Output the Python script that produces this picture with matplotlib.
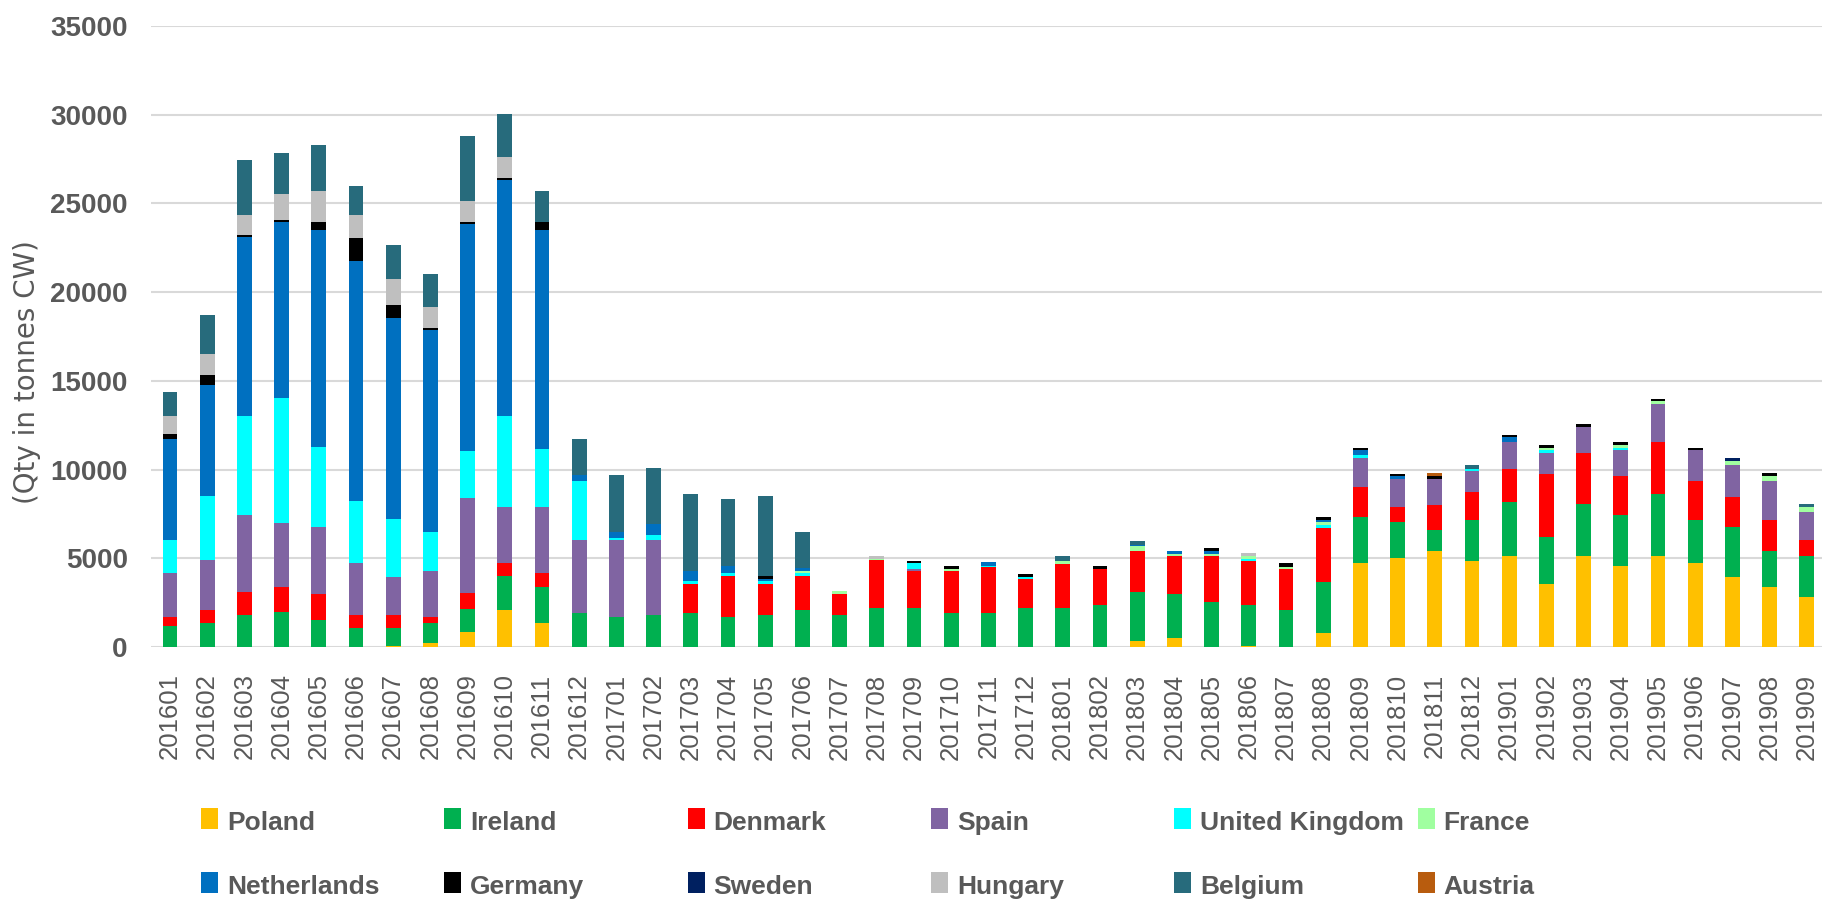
import matplotlib
matplotlib.use('Agg')
import matplotlib.pyplot as plt
import numpy as np
from matplotlib import font_manager
from matplotlib.patches import Rectangle

# the original uses a narrow sans; take a condensed family if one is installed
names = {f.name for f in font_manager.fontManager.ttflist}
FONT, LEG_SIZE = 'Liberation Sans', 19
for cand in ['Liberation Sans Narrow', 'DejaVu Sans Condensed']:
    if cand in names:
        FONT, LEG_SIZE = cand, 21
        break
GREY = '#595959'

months = ['201601', '201602', '201603', '201604', '201605', '201606', '201607', '201608', '201609',
          '201610', '201611', '201612', '201701', '201702', '201703', '201704', '201705', '201706',
          '201707', '201708', '201709', '201710', '201711', '201712', '201801', '201802', '201803',
          '201804', '201805', '201806', '201807', '201808', '201809', '201810', '201811', '201812',
          '201901', '201902', '201903', '201904', '201905', '201906', '201907', '201908', '201909']

poland = [0, 0, 0, 0, 0, 0, 40, 210, 820, 2090, 1380, 0,
          0, 0, 0, 0, 0, 0, 0, 0, 0, 0, 0, 0,
          0, 0, 340, 490, 0, 40, 0, 770, 4710, 4990, 5420, 4840,
          5140, 3540, 5140, 4560, 5140, 4710, 3970, 3390, 2810]
ireland = [1210, 1380, 1800, 1950, 1510, 1070, 1030, 1170, 1320, 1890, 2010, 1930,
           1675, 1820, 1930, 1675, 1820, 2090, 1820, 2220, 2220, 1930, 1940, 2220,
           2220, 2350, 2770, 2470, 2520, 2310, 2090, 2920, 2620, 2030, 1170, 2340,
           3050, 2640, 2900, 2900, 3490, 2470, 2790, 2030, 2330]
denmark = [465, 710, 1320, 1440, 1460, 750, 750, 295, 880, 750, 760, 0,
           0, 0, 1630, 2305, 1740, 1890, 1150, 2680, 2050, 2340, 2580, 1600,
           2470, 2040, 2290, 2180, 2620, 2490, 2300, 3030, 1710, 870, 1430, 1580,
           1870, 3590, 2920, 2180, 2900, 2160, 1710, 1760, 870]
spain = [2470, 2790, 4330, 3620, 3770, 2890, 2140, 2600, 5360, 3180, 3760, 4080,
         4335, 4190, 0, 0, 0, 0, 0, 0, 150, 0, 0, 0,
         0, 0, 0, 0, 0, 0, 0, 0, 1620, 1600, 1470, 1180,
         1470, 1190, 1450, 1450, 2180, 1750, 1760, 2160, 1600]
uk = [1885, 3620, 5550, 7040, 4520, 3500, 3240, 2200, 2640, 5090, 3230, 3370,
      150, 310, 150, 170, 150, 170, 0, 0, 310, 0, 60, 130,
      0, 0, 0, 0, 0, 130, 0, 170, 150, 0, 0, 120,
      0, 130, 0, 150, 0, 0, 0, 0, 0]
france = [0, 0, 0, 0, 0, 0, 0, 0, 0, 0, 0, 0,
          0, 0, 0, 0, 0, 120, 170, 80, 0, 150, 0, 0,
          150, 0, 300, 110, 110, 170, 130, 130, 0, 0, 0, 0,
          0, 150, 0, 140, 130, 0, 280, 300, 280]
netherlands = [5700, 6260, 10090, 9900, 12250, 13570, 11350, 11390, 12840, 13300, 12370, 290,
               310, 590, 560, 420, 100, 170, 0, 0, 0, 0, 190, 0,
               0, 0, 60, 170, 150, 0, 0, 160, 300, 130, 0, 0,
               300, 0, 0, 0, 0, 0, 0, 0, 0]
germany = [250, 570, 105, 130, 420, 1270, 710, 100, 120, 120, 420, 0,
           0, 0, 0, 0, 170, 0, 0, 0, 130, 140, 0, 190,
           0, 170, 0, 0, 160, 0, 190, 150, 130, 150, 150, 0,
           130, 140, 150, 150, 150, 150, 0, 150, 0]
sweden = [0] * 42 + [150, 0, 0]
hungary = [1030, 1190, 1170, 1460, 1760, 1320, 1470, 1180, 1170, 1180, 0, 0,
           0, 0, 0, 0, 0, 0, 0, 170, 0, 0, 0, 0,
           0, 0, 0, 0, 0, 150, 0, 0, 0, 0, 0, 0,
           0, 0, 0, 0, 0, 0, 0, 0, 0]
belgium = [1340, 2180, 3060, 2330, 2620, 1610, 1900, 1900, 3670, 2450, 1760, 2060,
           3200, 3180, 4380, 3790, 4520, 2030, 0, 0, 0, 0, 0, 0,
           300, 0, 240, 0, 0, 0, 0, 0, 0, 0, 0, 170,
           0, 0, 0, 0, 0, 0, 0, 0, 150]
austria = [0] * 34 + [170] + [0] * 10

countries = ['Poland', 'Ireland', 'Denmark', 'Spain', 'United Kingdom', 'France',
             'Netherlands', 'Germany', 'Sweden', 'Hungary', 'Belgium', 'Austria']
series = [poland, ireland, denmark, spain, uk, france,
          netherlands, germany, sweden, hungary, belgium, austria]
colors = ['#ffc000', '#00b050', '#ff0000', '#8064a2', '#00ffff', '#a0ffa0',
          '#0070c0', '#000000', '#002060', '#bfbfbf', '#276b7c', '#b85c0e']

W, H = 1822, 902
fig = plt.figure(figsize=(W / 100, H / 100), dpi=100)
ax = fig.add_axes([151.4 / W, 1 - 647 / H, (W - 151.4) / W, 621 / H])

x = np.arange(len(months))
bottom = np.zeros(len(months))
for name, vals, c in zip(countries, series, colors):
    ax.bar(x, vals, width=0.4, bottom=bottom, color=c, linewidth=0, label=name)
    bottom += np.array(vals)

ax.set_xlim(-0.5, 44.41)
ax.set_ylim(0, 35000)
ax.set_yticks(np.arange(0, 35001, 5000))
ax.set_xticks(x)
ax.set_xticklabels(months, rotation=90, fontsize=18.5, family=FONT, color=GREY)
for lab in ax.get_yticklabels():
    lab.set_fontfamily(FONT)
    lab.set_fontweight('bold')
    lab.set_fontsize(20)
    lab.set_color(GREY)
ax.tick_params(axis='y', length=0, pad=17)
ax.tick_params(axis='x', length=0, pad=19)
ax.grid(axis='y', color='#d9d9d9', linewidth=1.5)
ax.set_axisbelow(True)
for s in ax.spines.values():
    s.set_visible(False)

fig.text(27 / W, 1 - 372 / H, '(Qty in tonnes CW)', rotation=90, ha='center', va='center',
         fontsize=20, color=GREY, family='DejaVu Sans')

# legend, excel style: 6 equal columns, 2 rows
for i, (name, c) in enumerate(zip(countries, colors)):
    col, row = i % 6, i // 6
    left = 201 + 243.3 * col
    top = 808 + 63.7 * row
    fig.add_artist(Rectangle((left / W, 1 - (top + 21) / H), 17 / W, 21 / H,
                             transform=fig.transFigure, color=c, linewidth=0))
    fig.text((left + 26) / W, 1 - (top + 22) / H, name, ha='left', va='baseline',
             fontsize=LEG_SIZE, fontweight='bold', family=FONT, color=GREY)

fig.savefig('out.png', dpi=100)
